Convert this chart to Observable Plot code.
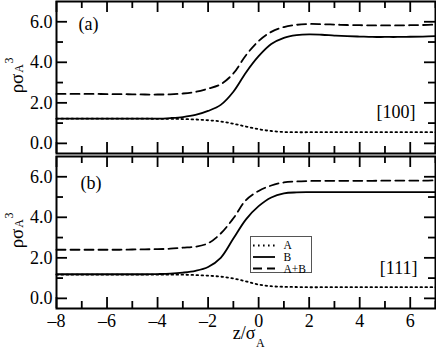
<!DOCTYPE html>
<html>
<head>
<meta charset="utf-8">
<script src="https://cdn.jsdelivr.net/npm/d3@7"></script>
<script src="https://cdn.jsdelivr.net/npm/@observablehq/plot@0.6"></script>
<style>
  html, body { margin: 0; padding: 0; background: #fff; }
  #wrap { position: relative; width: 436px; height: 349px; overflow: hidden; background: #fff; }
  #wrap svg, #wrap svg text { font-family: "Liberation Serif", "Times New Roman", serif !important; }
</style>
</head>
<body>
<div id="wrap"></div>
<script>
// z / sigma_A sample positions
const z = [-8,-7.5,-7,-6.5,-6,-5.5,-5,-4.5,-4,-3.5,-3,-2.5,-2,-1.5,-1,-0.5,0,0.5,1,1.5,2,2.5,3,3.5,4,4.5,5,5.5,6,6.5,7];

// Panel (a) [100]
const aA  = [1.22,1.22,1.22,1.22,1.22,1.22,1.22,1.22,1.21,1.21,1.20,1.18,1.14,1.08,0.97,0.83,0.70,0.61,0.56,0.55,0.55,0.55,0.55,0.55,0.55,0.55,0.55,0.55,0.55,0.55,0.55];
const aB  = [1.22,1.22,1.22,1.22,1.22,1.22,1.22,1.22,1.22,1.25,1.30,1.40,1.60,1.90,2.55,3.50,4.30,4.90,5.21,5.34,5.38,5.36,5.32,5.29,5.27,5.25,5.25,5.25,5.26,5.27,5.29];
const aAB = [2.44,2.44,2.44,2.44,2.43,2.43,2.42,2.41,2.41,2.42,2.46,2.54,2.70,2.92,3.45,4.35,5.05,5.50,5.74,5.85,5.89,5.88,5.86,5.84,5.83,5.82,5.82,5.82,5.83,5.84,5.86];

// Panel (b) [111]
const bA  = [1.17,1.17,1.17,1.17,1.17,1.17,1.17,1.17,1.17,1.17,1.17,1.15,1.12,1.07,0.98,0.84,0.68,0.60,0.57,0.56,0.55,0.55,0.55,0.55,0.55,0.55,0.55,0.55,0.55,0.55,0.55];
const bB  = [1.19,1.19,1.19,1.19,1.19,1.19,1.19,1.19,1.20,1.22,1.27,1.36,1.55,2.00,2.95,3.90,4.55,4.98,5.18,5.23,5.24,5.24,5.24,5.24,5.24,5.24,5.24,5.24,5.24,5.24,5.24];
const bAB = [2.40,2.40,2.40,2.40,2.40,2.40,2.41,2.42,2.43,2.45,2.50,2.55,2.72,3.20,3.95,4.85,5.30,5.57,5.72,5.77,5.79,5.80,5.80,5.80,5.80,5.80,5.81,5.81,5.81,5.81,5.82];

const seriesNames = ["A", "B", "A+B"];
const xMajor = [-8,-6,-4,-2,0,2,4,6];
const xMinor = [-7,-5,-3,-1,1,3,5,7];
const yMajor = [0,2,4,6];
const yMinor = [1,3,5];
const panelLabels = ["(a)", "(b)"];
const orientLabels = ["[100]", "[111]"];

const dashes = {"A": "1.6,3.4", "B": null, "A+B": "9,5"};

function rows(a, b, ab) {
  const out = [];
  z.forEach((zz, i) => {
    out.push({z: zz, v: a[i], s: "A"});
    out.push({z: zz, v: b[i], s: "B"});
    out.push({z: zz, v: ab[i], s: "A+B"});
  });
  return out;
}

const W = 436;
const mL = 56, mR = 1;
const innerW = W - mL - mR;
const innerH = 152;
const FONT = "Liberation Serif, Times New Roman, serif";

function ticks() {
  return [
    Plot.ruleX(xMajor, {x: d => d, insetTop: innerH - 11, strokeWidth: 1.8}),
    Plot.ruleX(xMinor, {x: d => d, insetTop: innerH - 7, strokeWidth: 1.8}),
    Plot.ruleX(xMajor, {x: d => d, insetBottom: innerH - 11, strokeWidth: 1.8}),
    Plot.ruleX(xMinor, {x: d => d, insetBottom: innerH - 7, strokeWidth: 1.8}),
    Plot.ruleY(yMajor, {y: d => d, insetRight: innerW - 11, strokeWidth: 1.8}),
    Plot.ruleY(yMinor, {y: d => d, insetRight: innerW - 7, strokeWidth: 1.8}),
    Plot.ruleY(yMajor, {y: d => d, insetLeft: innerW - 11, strokeWidth: 1.8}),
    Plot.ruleY(yMinor, {y: d => d, insetLeft: innerW - 7, strokeWidth: 1.8})
  ];
}

function curves(data) {
  return seriesNames.map(s => Plot.line(data.filter(d => d.s === s), {
    x: "z", y: "v", stroke: "black", strokeWidth: 1.8,
    strokeDasharray: dashes[s], curve: "catmull-rom"
  }));
}

function yLabel() {
  return [
    Plot.text(["ρσ"], {frameAnchor: "left", rotate: -90, dx: -40, dy: 6, fontSize: 19, fontFamily: FONT, textAnchor: "middle", lineAnchor: "middle"}),
    Plot.text(["A"], {frameAnchor: "left", rotate: -90, dx: -37, dy: -9, fontSize: 12, fontFamily: FONT, textAnchor: "middle", lineAnchor: "middle"}),
    Plot.text(["3"], {frameAnchor: "left", rotate: -90, dx: -47.5, dy: -17, fontSize: 12, fontFamily: FONT, textAnchor: "middle", lineAnchor: "middle"})
  ];
}

const common = {
  width: W,
  marginLeft: mL, marginRight: mR,
  x: {domain: [-8, 7]},
  y: {domain: [-0.5, 7]},
  style: {fontFamily: FONT, fontSize: "18px", color: "black", background: "white", overflow: "visible"}
};

const p1 = Plot.plot({
  ...common,
  height: 154, marginTop: 1, marginBottom: 1,
  marks: [
    ...curves(rows(aA, aB, aAB)),
    ...ticks(),
    Plot.frame({stroke: "black", strokeWidth: 2}),
    Plot.axisY({ticks: yMajor, tickSize: 0, tickPadding: 4, tickFormat: d3.format(".1f"), label: null, fontFamily: FONT}),
    Plot.axisX({ticks: [], tickSize: 0, label: null}),
    ...yLabel(),
    Plot.text([panelLabels[0]], {frameAnchor: "top-left", dx: 22, dy: 23, textAnchor: "start", lineAnchor: "middle", fontSize: 18, fontFamily: FONT}),
    Plot.text([orientLabels[0]], {frameAnchor: "bottom-right", dx: -20, dy: -41, textAnchor: "end", lineAnchor: "middle", fontSize: 18, fontFamily: FONT})
  ]
});

const p2 = Plot.plot({
  ...common,
  height: 193, marginTop: 1, marginBottom: 40,
  marks: [
    ...curves(rows(bA, bB, bAB)),
    ...ticks(),
    Plot.frame({stroke: "black", strokeWidth: 2}),
    Plot.axisY({ticks: yMajor, tickSize: 0, tickPadding: 4, tickFormat: d3.format(".1f"), label: null, fontFamily: FONT}),
    Plot.axisX({ticks: xMajor, tickSize: 0, tickPadding: 6, tickFormat: d => d < 0 ? "\u2013" + (-d) : String(d), label: null, fontFamily: FONT}),
    ...yLabel(),
    Plot.text(["z/σ"], {frameAnchor: "bottom", dx: 9.5, dy: 25, textAnchor: "end", lineAnchor: "middle", fontSize: 18, fontFamily: FONT}),
    Plot.text(["A"], {frameAnchor: "bottom", dx: 10, dy: 35, textAnchor: "start", lineAnchor: "middle", fontSize: 12, fontFamily: FONT}),
    Plot.text([panelLabels[1]], {frameAnchor: "top-left", dx: 24, dy: 27, textAnchor: "start", lineAnchor: "middle", fontSize: 18, fontFamily: FONT}),
    Plot.text([orientLabels[1]], {frameAnchor: "bottom-right", dx: -18, dy: -40.5, textAnchor: "end", lineAnchor: "middle", fontSize: 18, fontFamily: FONT}),
    // legend
    Plot.frame({stroke: "#555", strokeWidth: 1, insetLeft: 194, insetRight: 124, insetTop: 80, insetBottom: 36}),
    ...seriesNames.map((s, i) => Plot.ruleY([7], {dy: [89, 100.5, 112][i], insetLeft: 197, insetRight: 160, stroke: "black", strokeWidth: 1.8, strokeDasharray: dashes[s]})),
    ...seriesNames.map((s, i) => Plot.text([s], {frameAnchor: "top-left", dx: 227, dy: [88.5, 100.5, 112.5][i], textAnchor: "start", lineAnchor: "middle", fontSize: 11.5, fontFamily: FONT}))
  ]
});

const wrap = document.getElementById("wrap");
p1.style.position = "absolute"; p1.style.top = "0px"; p1.style.left = "0px";
p2.style.position = "absolute"; p2.style.top = "155px"; p2.style.left = "0px";
wrap.appendChild(p1);
wrap.appendChild(p2);
</script>
</body>
</html>
